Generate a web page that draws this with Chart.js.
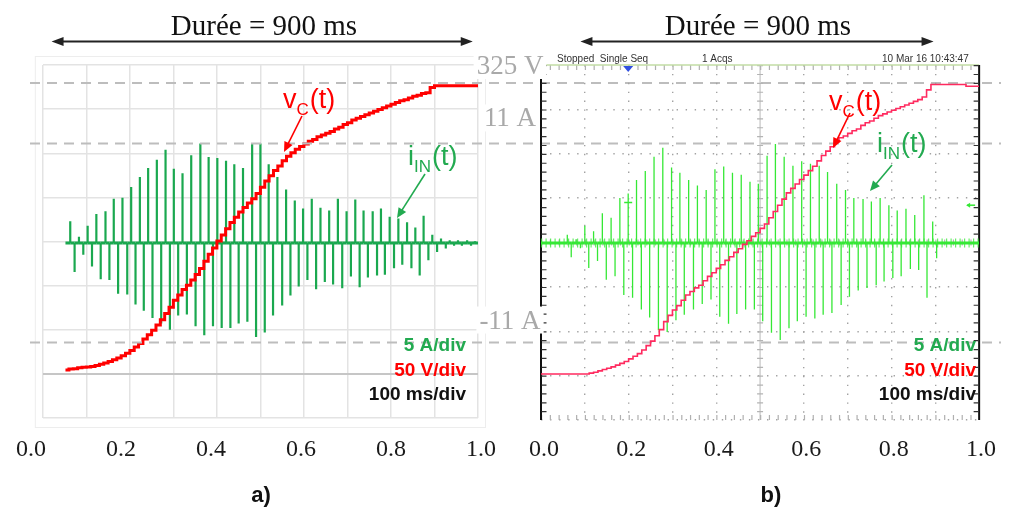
<!DOCTYPE html>
<html><head><meta charset="utf-8">
<script src="https://cdn.jsdelivr.net/npm/chart.js@4.4.1/dist/chart.umd.min.js"></script>
<style>
html,body{margin:0;padding:0;background:#fff;}
#wrap{position:relative;width:1011px;height:509px;overflow:hidden;background:#fff;}
#wrap canvas{position:absolute;left:0;top:0;}
</style></head><body>
<div id="wrap"><canvas id="chartA" width="1011" height="509"></canvas><canvas id="chartB" width="1011" height="509"></canvas></div>
<script>
// ---------------- DATA ----------------
const tickValues = [0.0, 0.2, 0.4, 0.6, 0.8, 1.0];
const refValues = [325, 11, -11];
const refAxes = ['yV', 'yI', 'yI'];
const refLabels = ['325 V', '11 A', '-11 A'];

// a) current pulses (time in ms, current in A)
const posTimesA = [63,83,103,123,144,163,183,203,223,242,262,282,301,321,341,362,381,401,421,440,460,481,500,519,539,559,579,598,618,638,658,678,698,718,737,758,777,797,817,837,856,875,895,915,935,954,975,993];
const posPeaksA = [2.4,0.7,1.9,3.2,3.5,4.9,5.0,6.2,7.3,8.3,9.2,10.3,8.2,7.7,9.7,11.0,9.5,9.4,9.1,8.7,8.3,11.0,11.0,8.7,7.3,5.9,4.7,3.8,4.9,3.9,3.6,4.9,3.5,4.8,3.6,3.5,3.8,2.9,2.7,2.3,1.7,3.0,0.9,0.5,0.3,0.3,0.3,0.2];
const negTimesA = [73,93,113,133,153,173,194,213,232,252,272,292,311,331,351,371,391,411,431,450,470,490,510,529,550,569,588,608,628,648,667,688,708,728,747,768,786,807,826,847,866,886,906,926,945,963,984];
const negPeaksA = [-3.2,-1.3,-2.6,-4.0,-4.1,-5.6,-5.7,-6.8,-7.5,-8.3,-8.9,-9.6,-8.0,-7.9,-9.2,-10.2,-9.2,-9.4,-9.4,-8.9,-8.7,-10.4,-9.9,-8.0,-6.9,-5.8,-4.8,-4.1,-5.1,-4.3,-4.6,-5.0,-3.7,-4.9,-3.8,-3.6,-3.5,-2.8,-2.4,-2.8,-3.6,-1.9,-1.0,-0.6,-0.3,-0.3,-0.3];
const iStartA = 52, iEndA = 1000;
// a) capacitor voltage (ms, V)
const vcTimesA = [52,60,70,80,90,100,110,120,130,140,150,160,170,180,190,200,210,220,230,240,250,260,270,280,290,300,310,320,330,340,350,360,370,380,390,400,410,420,430,440,450,460,470,480,490,500,510,520,530,540,550,560,570,580,590,600,610,620,630,640,650,660,670,680,690,700,710,720,730,740,750,760,770,780,790,800,810,820,830,840,850,860,870,880,890,900,910,920,930,940,950,960,970,980,990,1000];
const vcValuesA = [0,1,1.5,2.5,3,3.5,4,5,6.5,8,9.5,11.5,13.5,16,19,22,26,30,35,40,45,51,57,64,71,79,85,91,96,102,108,115,123,131,138,146,153,160,167,173,179,184,189,194,200,207,214,220,226,231,237,242,246,250,253,256,259,261,264,266,268,270,273,275,278,280,283,285,287,289,291,293,295,297,299,301,303,305,306,308,310,311,313,314,320,322,322,322,322,322,322,322,322,322,322,322];

// b) oscilloscope current pulses
const posTimesB = [60,80,100,120,140,160,180,199,218,238,258,278,298,317,337,357,377,397,417,437,457,477,496,516,535,555,575,595,615,635,654,675,695,714,735,754,774,794,813,833,853,874,894];
const posPeaksB = [0.9,0.4,1.9,1.3,3.3,2.8,5.0,5.5,7.0,8.0,9.6,10.6,8.4,7.8,7.0,6.4,5.9,8.2,8.5,7.8,7.6,6.8,6.6,9.7,11.0,9.6,8.6,9.1,8.8,8.6,7.9,6.6,5.9,5.0,4.9,4.6,5.0,4.2,3.6,3.8,3.1,5.3,2.4];
const negTimesB = [69,90,109,129,149,169,189,209,229,248,268,288,308,327,348,368,388,408,428,447,467,487,506,526,546,566,585,605,625,644,664,685,704,724,744,765,783,803,822,843,862,881,903];
const negPeaksB = [-1.6,-0.6,-2.8,-2.0,-4.1,-3.7,-5.8,-6.1,-7.4,-8.3,-9.7,-9.9,-8.6,-8.0,-7.4,-6.8,-6.3,-8.2,-9.0,-7.9,-7.4,-7.4,-8.7,-10.0,-10.8,-9.5,-8.7,-8.2,-8.4,-8.0,-7.8,-6.9,-6.0,-5.3,-5.0,-4.7,-4.3,-3.9,-3.7,-2.9,-3.0,-6.1,-1.7];
const iStartB = 0, iEndB = 1000;
// b) capacitor voltage
const vcTimesB = [0,10,20,30,40,50,60,70,80,90,100,110,120,130,140,150,160,170,180,190,200,210,220,230,240,250,260,270,280,290,300,310,320,330,340,350,360,370,380,390,400,410,420,430,440,450,460,470,480,490,500,510,520,530,540,550,560,570,580,590,600,610,620,630,640,650,660,670,680,690,700,710,720,730,740,750,760,770,780,790,800,810,820,830,840,850,860,870,880,890,900,910,920,930,940,950,960,970,980,990,1000];
const vcValuesB = [0,0,0,0,0,0,0,0,0,0,0,1,2,3.5,5,6.5,8,10,12,14,17,20,23,27,32,37,43,50,59,66,72,77,83,89,93,97,100,105,110,114,119,123,128,132,137,141,146,150,155,159,164,169,176,183,190,197,204,209,214,219,224,229,234,240,246,251,256,262,266,268,271,274,276,280,283,285,288,291,293,295,297,299,301,303,305,307,309,312,320,326,326,326,326,326,326,326,326,324,324,324,324];

// ---------------- HELPERS ----------------
const SANS = "'Liberation Sans', Arial, sans-serif";
const NARROW = "'Liberation Sans Narrow', 'Liberation Sans', Arial, sans-serif";
const SERIF = "'Liberation Serif', 'Times New Roman', serif";
const GREEN_TXT = '#22aa50';

function spikePoints(posT, posV, negT, negV, t0, t1) {
  const ev = posT.map((t, i) => [t, posV[i]]).concat(negT.map((t, i) => [t, negV[i]]))
    .sort((a, b) => a[0] - b[0]);
  const pts = [{x: t0, y: 0}];
  ev.forEach(([t, v]) => { pts.push({x: t, y: 0}, {x: t, y: v}, {x: t, y: 0}); });
  pts.push({x: t1, y: 0});
  return pts;
}
function xyPoints(ts, vs) { return ts.map((t, i) => ({x: t, y: vs[i]})); }

function head(ctx, x1, y1, x2, y2, len, half) {
  const a = Math.atan2(y2 - y1, x2 - x1);
  ctx.beginPath();
  ctx.moveTo(x2, y2);
  ctx.lineTo(x2 - len * Math.cos(a) + half * Math.sin(a), y2 - len * Math.sin(a) - half * Math.cos(a));
  ctx.lineTo(x2 - len * Math.cos(a) - half * Math.sin(a), y2 - len * Math.sin(a) + half * Math.cos(a));
  ctx.closePath(); ctx.fill();
}
function pointer(ctx, x1, y1, x2, y2, color) {
  ctx.save(); ctx.strokeStyle = color; ctx.fillStyle = color; ctx.lineWidth = 1.6;
  const a = Math.atan2(y2 - y1, x2 - x1);
  ctx.beginPath(); ctx.moveTo(x1, y1); ctx.lineTo(x2 - 6 * Math.cos(a), y2 - 6 * Math.sin(a)); ctx.stroke();
  head(ctx, x1, y1, x2, y2, 10, 4.5);
  ctx.restore();
}
function durationArrow(ctx, text, cx, x1, x2) {
  ctx.save();
  ctx.fillStyle = '#111'; ctx.font = '29px ' + SERIF; ctx.textAlign = 'center'; ctx.textBaseline = 'alphabetic';
  ctx.fillText(text, cx, 35);
  ctx.strokeStyle = '#222'; ctx.fillStyle = '#222'; ctx.lineWidth = 2;
  ctx.beginPath(); ctx.moveTo(x1 + 8, 41.5); ctx.lineTo(x2 - 8, 41.5); ctx.stroke();
  head(ctx, x2 - 20, 41.5, x1, 41.5, 12, 4.5);
  head(ctx, x1 + 20, 41.5, x2, 41.5, 12, 4.5);
  ctx.restore();
}
function subLabel(ctx, x, y, main, sub, tail, color) {
  ctx.save(); ctx.fillStyle = color; ctx.textAlign = 'left'; ctx.textBaseline = 'alphabetic';
  ctx.font = '27px ' + SANS; ctx.fillText(main, x, y); const w1 = ctx.measureText(main).width;
  ctx.font = '17px ' + SANS; ctx.fillText(sub, x + w1, y + 7); const w2 = ctx.measureText(sub).width;
  ctx.font = '27px ' + SANS; ctx.fillText(tail, x + w1 + w2 + 1, y);
  ctx.restore();
}
function divTexts(ctx, xr) {
  ctx.save(); ctx.textAlign = 'right'; ctx.textBaseline = 'alphabetic'; ctx.font = 'bold 19px ' + SANS;
  ctx.fillStyle = GREEN_TXT; ctx.fillText('5 A/div', xr, 351);
  ctx.fillStyle = '#ff0000'; ctx.fillText('50 V/div', xr, 376);
  ctx.fillStyle = '#111'; ctx.fillText('100 ms/div', xr, 400);
  ctx.restore();
}
function panelTag(ctx, t, cx) {
  ctx.save(); ctx.fillStyle = '#111'; ctx.font = 'bold 22px ' + SANS; ctx.textAlign = 'center';
  ctx.fillText(t, cx, 502); ctx.restore();
}
function ticked(ctx, x1, y1, x2, y2, width, period, color) {
  ctx.save(); ctx.strokeStyle = color; ctx.lineWidth = width; ctx.setLineDash([1.2, period - 1.2]);
  ctx.beginPath(); ctx.moveTo(x1, y1); ctx.lineTo(x2, y2); ctx.stroke(); ctx.restore();
}

function labelAxis(min, max, h, pad) {
  return {
    type: 'linear', position: 'bottom', min: min, max: max,
    afterBuildTicks: s => { s.ticks = tickValues.map(v => ({value: v})); },
    afterFit: s => { s.height = h; },
    ticks: {autoSkip: false, maxRotation: 0, padding: pad, color: '#1a1a1a',
      font: {family: SERIF, size: 24}, callback: v => Number(v).toFixed(1)},
    grid: {display: false, drawTicks: false}, border: {display: false}
  };
}

// ---------------- CHART A (simulation) ----------------
const plugA = {
  id: 'annA',
  beforeDraw(chart) {
    const {ctx, chartArea: a} = chart;
    ctx.save(); ctx.strokeStyle = '#ededed'; ctx.lineWidth = 1;
    ctx.strokeRect(a.left - 7.5, a.top - 8.5, a.right - a.left + 15, a.bottom - a.top + 18);
    ctx.restore();
  },
  afterDraw(chart) {
    const {ctx} = chart; const s = chart.scales;
    ctx.save(); ctx.setLineDash([10, 7]); ctx.strokeStyle = '#bdbdbd'; ctx.lineWidth = 2;
    refValues.forEach((v, i) => {
      const y = s[refAxes[i]].getPixelForValue(v);
      ctx.beginPath(); ctx.moveTo(30, y); ctx.lineTo(1001, y); ctx.stroke();
    });
    ctx.restore();
    durationArrow(ctx, 'Durée = 900 ms', 264, s.tg.getPixelForValue(20), s.tg.getPixelForValue(988));
    subLabel(ctx, 283, 108, 'v', 'C', '(t)', '#ff0000');
    pointer(ctx, 302, 116, 284, 152, '#ff0000');
    subLabel(ctx, 408, 165, 'i', 'IN', '(t)', GREEN_TXT);
    pointer(ctx, 425, 174, 397, 218, GREEN_TXT);
    divTexts(ctx, 466);
    panelTag(ctx, 'a)', 261);
  }
};

const chartA = new Chart(document.getElementById('chartA'), {
  type: 'line',
  data: {datasets: [
    {label: 'vC', data: xyPoints(vcTimesA, vcValuesA), xAxisID: 'tg', yAxisID: 'yV',
     borderColor: '#ff0000', borderWidth: 3, stepped: 'before', pointRadius: 0, fill: false},
    {label: 'iIN', data: spikePoints(posTimesA, posPeaksA, negTimesA, negPeaksA, iStartA, iEndA),
     xAxisID: 'tg', yAxisID: 'yI', borderColor: '#1aa84f', borderWidth: 2.2, pointRadius: 0, fill: false,
     borderJoinStyle: 'miter',
     segment: {borderWidth: c => (c.p0.parsed.y === 0 && c.p1.parsed.y === 0) ? 3 : 2.2}}
  ]},
  options: {
    responsive: false, animation: false, devicePixelRatio: 1, events: [],
    layout: {padding: {left: 39, top: 65, right: 533, bottom: 0}},
    plugins: {legend: {display: false}, tooltip: {enabled: false}},
    scales: {
      xl: labelAxis(0.02643, 0.99339, 91, 17),
      tg: {type: 'linear', axis: 'x', position: 'bottom', min: 0, max: 1000,
        ticks: {display: false, stepSize: 100}, afterFit: s => { s.height = 0; },
        grid: {color: '#e3e3e3', lineWidth: 1.5, drawTicks: false}, border: {display: false}},
      gy: {type: 'linear', axis: 'y', position: 'left', min: 0, max: 8,
        ticks: {display: false, stepSize: 1}, afterFit: s => { s.width = 0; },
        grid: {color: c => c.tick.value === 1 ? '#c6c6c6' : '#e3e3e3',
               lineWidth: c => c.tick.value === 1 ? 2 : 1.5, drawTicks: false},
        border: {display: false}},
      yI: {type: 'linear', axis: 'y', display: false, min: -19.34, max: 19.67},
      yV: {type: 'linear', axis: 'y', display: false, min: -54.4, max: 345.4}
    }
  },
  plugins: [plugA]
});

// ---------------- CHART B (oscilloscope) ----------------
const plugB = {
  id: 'annB',
  beforeDatasetsDraw(chart) {
    const {ctx, chartArea: a} = chart; const s = chart.scales;
    const cx = s.tg.getPixelForValue(500), cy = s.gy.getPixelForValue(4);
    ctx.save();
    // centre cross with minor ticks
    ctx.strokeStyle = '#c4c4c4'; ctx.lineWidth = 1.2;
    ctx.beginPath(); ctx.moveTo(cx, a.top); ctx.lineTo(cx, a.bottom); ctx.stroke();
    ctx.beginPath(); ctx.moveTo(a.left, cy); ctx.lineTo(a.right, cy); ctx.stroke();
    ticked(ctx, cx, a.top, cx, a.bottom, 6, (a.bottom - a.top) / 40, '#b4b4b4');
    ticked(ctx, a.left, cy, a.right, cy, 6, (a.right - a.left) / 50, '#b4b4b4');
    // top and bottom ticks
    ticked(ctx, a.left, a.top + 2.5, a.right, a.top + 2.5, 5, (a.right - a.left) / 50, '#b0b0b0');
    ticked(ctx, a.left, a.bottom - 2.5, a.right, a.bottom - 2.5, 5, (a.right - a.left) / 50, '#b0b0b0');
    // borders
    ctx.strokeStyle = '#c2dca4'; ctx.lineWidth = 1.6;
    ctx.beginPath(); ctx.moveTo(a.left, a.top); ctx.lineTo(a.right, a.top); ctx.stroke();
    ctx.strokeStyle = '#111'; ctx.lineWidth = 2;
    ctx.beginPath(); ctx.moveTo(a.left, a.top); ctx.lineTo(a.left, a.bottom); ctx.stroke();
    ctx.beginPath(); ctx.moveTo(a.right, a.top); ctx.lineTo(a.right, a.bottom); ctx.stroke();
    ticked(ctx, a.left + 3, a.top, a.left + 3, a.bottom, 5, (a.bottom - a.top) / 40, '#333');
    ticked(ctx, a.right - 3, a.top, a.right - 3, a.bottom, 5, (a.bottom - a.top) / 40, '#333');
    ctx.restore();
  },
  afterDraw(chart) {
    const {ctx, chartArea: a} = chart; const s = chart.scales; const sa = chartA.scales;
    // header
    ctx.save(); ctx.fillStyle = '#333'; ctx.font = '10px ' + NARROW; ctx.textAlign = 'left';
    ctx.fillText('Stopped  Single Seq', 557, 62);
    ctx.fillText('1 Acqs', 702, 62);
    ctx.fillText('10 Mar 16 10:43:47', 882, 62);
    // trigger marker
    const tx = s.tg.getPixelForValue(199);
    ctx.fillStyle = '#2f4fe0'; ctx.beginPath(); ctx.moveTo(tx - 5, a.top + 1); ctx.lineTo(tx + 5, a.top + 1); ctx.lineTo(tx, a.top + 7); ctx.closePath(); ctx.fill();
    ctx.strokeStyle = '#35e835'; ctx.lineWidth = 1.5;
    ctx.beginPath(); ctx.moveTo(tx - 4, s.yI.getPixelForValue(4.5)); ctx.lineTo(tx + 4, s.yI.getPixelForValue(4.5)); ctx.stroke();
    // channel level marker
    ctx.fillStyle = '#35e835';
    const my = s.yI.getPixelForValue(4.2);
    ctx.beginPath(); ctx.moveTo(a.right - 12, my); ctx.lineTo(a.right - 4, my); ctx.stroke();
    head(ctx, a.right - 4, my, a.right - 13, my, 4, 2.5);
    ctx.restore();
    durationArrow(ctx, 'Durée = 900 ms', 758, s.tg.getPixelForValue(90), s.tg.getPixelForValue(896));
    subLabel(ctx, 829, 110, 'v', 'C', '(t)', '#ff0000');
    pointer(ctx, 850, 113, 833, 148, '#ff0000');
    subLabel(ctx, 877, 152, 'i', 'IN', '(t)', GREEN_TXT);
    pointer(ctx, 892, 165, 870, 191, GREEN_TXT);
    divTexts(ctx, 976);
    panelTag(ctx, 'b)', 771);
    // reference labels with white background
    const dys = [-9, -17, -14];
    ctx.save(); ctx.font = '27px ' + SERIF; ctx.textAlign = 'center'; ctx.textBaseline = 'alphabetic';
    refLabels.forEach((lab, i) => {
      const y = sa[refAxes[i]].getPixelForValue(refValues[i]) + dys[i];
      const w = ctx.measureText(lab).width;
      ctx.fillStyle = '#ffffff';
      ctx.fillRect(510 - w / 2 - 3, y - 22, w + 6, 27);
      ctx.fillStyle = '#a9a9a9';
      ctx.fillText(lab, 510, y);
    });
    ctx.restore();
  }
};

const chartB = new Chart(document.getElementById('chartB'), {
  type: 'line',
  data: {datasets: [
    {label: 'vC', data: xyPoints(vcTimesB, vcValuesB), xAxisID: 'tg', yAxisID: 'yV',
     borderColor: '#ff2a5f', borderWidth: 1.6, stepped: 'before', pointRadius: 0, fill: false},
    {label: 'iIN', data: spikePoints(posTimesB, posPeaksB, negTimesB, negPeaksB, iStartB, iEndB),
     xAxisID: 'tg', yAxisID: 'yI', borderColor: '#35e835', borderWidth: 1.3, pointRadius: 0, fill: false,
     segment: {borderWidth: c => (c.p0.parsed.y === 0 && c.p1.parsed.y === 0) ? 3 : 1.3}},
    {label: 'noise', data: [{x: iStartB, y: 0}, {x: iEndB, y: 0}], xAxisID: 'tg', yAxisID: 'yI',
     borderColor: 'rgba(53,232,53,0.75)', borderWidth: 9, borderDash: [1.2, 3.3], pointRadius: 0, fill: false}
  ]},
  options: {
    responsive: false, animation: false, devicePixelRatio: 1, events: [],
    layout: {padding: {left: 541, top: 65, right: 18, bottom: 0}},
    plugins: {legend: {display: false}, tooltip: {enabled: false}},
    scales: {
      xl: labelAxis(-0.00665, 0.99557, 89, 15),
      tg: {type: 'linear', axis: 'x', position: 'bottom', min: 0, max: 1000,
        ticks: {display: false, stepSize: 100}, afterFit: s => { s.height = 0; },
        grid: {color: c => (c.tick.value === 0 || c.tick.value === 1000 || c.tick.value === 500) ? 'rgba(0,0,0,0)' : '#a2a2a2',
               lineWidth: 1.4, drawTicks: false},
        border: {display: false, dash: [1.4, 7.48]}},
      gy: {type: 'linear', axis: 'y', position: 'left', min: 0, max: 8,
        ticks: {display: false, stepSize: 1}, afterFit: s => { s.width = 0; },
        grid: {color: c => (c.tick.value === 8 || c.tick.value === 4) ? 'rgba(0,0,0,0)' : '#a2a2a2',
               lineWidth: 1.4, drawTicks: false},
        border: {display: false, dash: [1.4, 7.64]}},
      yI: {type: 'linear', axis: 'y', display: false, min: -19.7, max: 19.8},
      yV: {type: 'linear', axis: 'y', display: false, min: -51.8, max: 348}
    }
  },
  plugins: [plugB]
});
</script></body></html>
